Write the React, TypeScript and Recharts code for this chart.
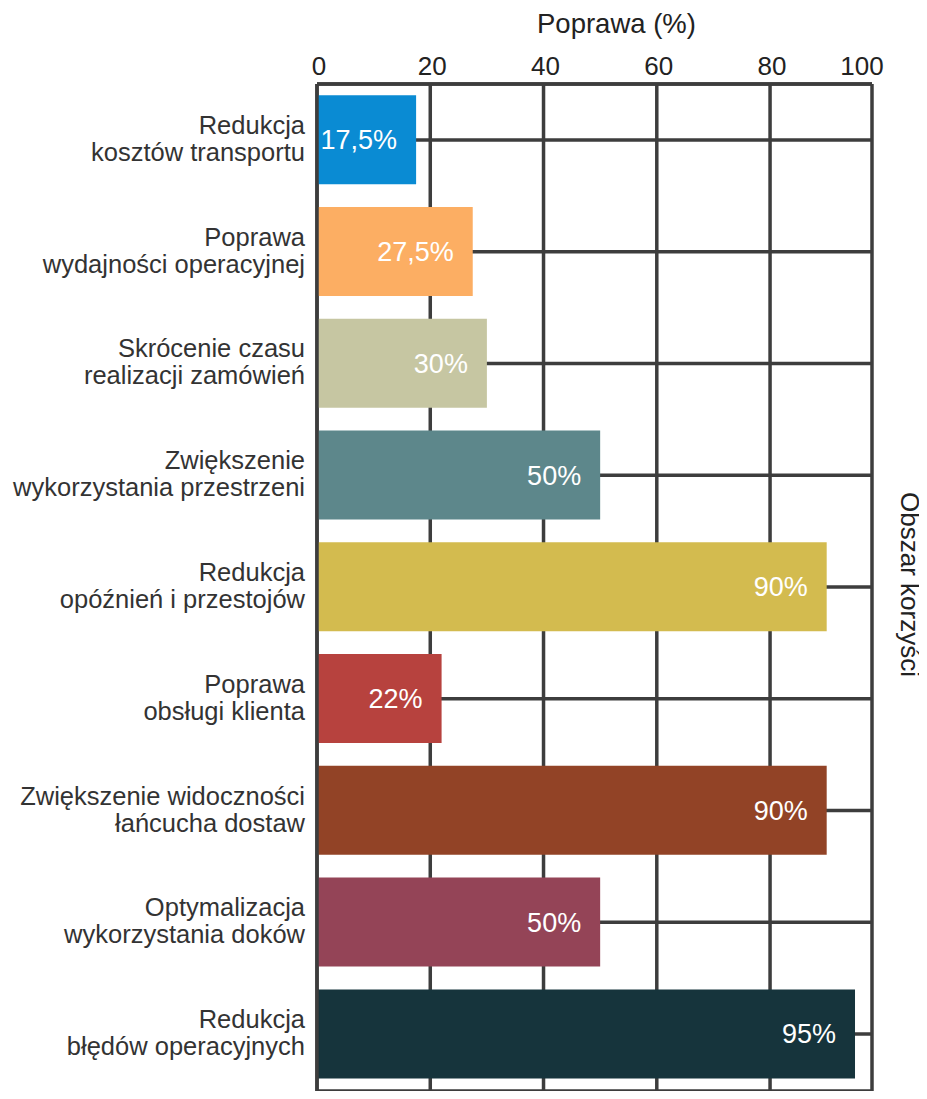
import { BarChart, Bar, XAxis, YAxis, CartesianGrid, Cell, LabelList } from 'recharts'

const categories = [
  'Redukcja\nkosztów transportu',
  'Poprawa\nwydajności operacyjnej',
  'Skrócenie czasu\nrealizacji zamówień',
  'Zwiększenie\nwykorzystania przestrzeni',
  'Redukcja\nopóźnień i przestojów',
  'Poprawa\nobsługi klienta',
  'Zwiększenie widoczności\nłańcucha dostaw',
  'Optymalizacja\nwykorzystania doków',
  'Redukcja\nbłędów operacyjnych',
]

const improvement = [17.5, 27.5, 30, 50, 90, 22, 90, 50, 95]

const barColors = [
  '#0a8bd3', // blue
  '#fcae63', // orange
  '#c6c6a2', // khaki
  '#5d878b', // teal
  '#d3bb4f', // mustard
  '#b7423e', // red
  '#924326', // brown
  '#944457', // plum
  '#16343c', // dark teal
]

const xTicks = [0, 20, 40, 60, 80, 98]
const xTickLabels = ['0', '20', '40', '60', '80', '100']

const xTitle = 'Poprawa (%)'
const yTitle = 'Obszar korzyści'

const data = categories.map((name, i) => ({ name, value: improvement[i] }))

const FONT = '"Liberation Sans", Arial, sans-serif'
const GRID = '#3d3d3d'

function XTick({ x, y, payload }: any) {
  const i = xTicks.indexOf(payload.value)
  const last = i === xTicks.length - 1
  return (
    <text x={x + (last ? -10 : 2)} y={y} textAnchor="middle" fontSize={26} fill="#222" fontFamily={FONT}>
      {xTickLabels[i]}
    </text>
  )
}

function YTick({ x, y, payload }: any) {
  const lines = String(payload.value).split('\n')
  return (
    <text textAnchor="end" fontSize={25.5} fill="#333" fontFamily={FONT}>
      <tspan x={x} y={y - 6}>{lines[0]}</tspan>
      <tspan x={x} y={y + 21}>{lines[1]}</tspan>
    </text>
  )
}

export default function App() {
  return (
    <div style={{ width: 919, height: 1083, fontFamily: FONT }}>
      <BarChart
        width={919}
        height={1083}
        data={data}
        layout="vertical"
        margin={{ top: 0, right: 0, bottom: 0, left: 0 }}
        barCategoryGap="10%"
      >
        <CartesianGrid yAxisId="left" stroke={GRID} strokeWidth={3.5} />
        <Bar yAxisId="left" dataKey="value" isAnimationActive={false}>
          {data.map((d, i) => (
            <Cell key={`cell-${i}`} fill={barColors[i]} />
          ))}
          <LabelList
            dataKey="value"
            position="insideRight"
            offset={19}
            fill="#fff"
            fontSize={27}
            fontFamily={FONT}
            formatter={(v: any) => `${String(v).replace('.', ',')}%`}
          />
        </Bar>
        <XAxis
          type="number"
          orientation="top"
          domain={[0, 98]}
          ticks={xTicks}
          height={76}
          axisLine={{ stroke: GRID, strokeWidth: 3.5 }}
          tickLine={false}
          tickSize={0}
          tickMargin={9}
          tick={<XTick />}
          label={{
            value: xTitle,
            content: ({ viewBox }: any) => (
              <text
                x={viewBox.x + viewBox.width / 2 + 22}
                y={25}
                textAnchor="middle"
                fontSize={27.5}
                fill="#222"
                fontFamily={FONT}
              >
                {xTitle}
              </text>
            ),
          }}
        />
        <YAxis
          yAxisId="left"
          type="category"
          dataKey="name"
          width={309}
          padding={{ top: 0, bottom: 1 }}
          axisLine={{ stroke: GRID, strokeWidth: 3.5 }}
          tickLine={false}
          tickSize={0}
          tickMargin={12}
          tick={<YTick />}
          interval={0}
        />
        <YAxis
          yAxisId="right"
          orientation="right"
          type="category"
          dataKey="name"
          width={55}
          tick={false}
          axisLine={false}
          tickLine={false}
          label={{
            value: yTitle,
            content: ({ viewBox }: any) => {
              const cx = viewBox.x + 38
              const cy = viewBox.y + viewBox.height / 2 - 3
              return (
                <text
                  x={cx}
                  y={cy}
                  transform={`rotate(90, ${cx}, ${cy})`}
                  textAnchor="middle"
                  dominantBaseline="central"
                  fontSize={26}
                  fill="#222"
                  fontFamily={FONT}
                >
                  {yTitle}
                </text>
              )
            },
          }}
        />
      </BarChart>
    </div>
  )
}
